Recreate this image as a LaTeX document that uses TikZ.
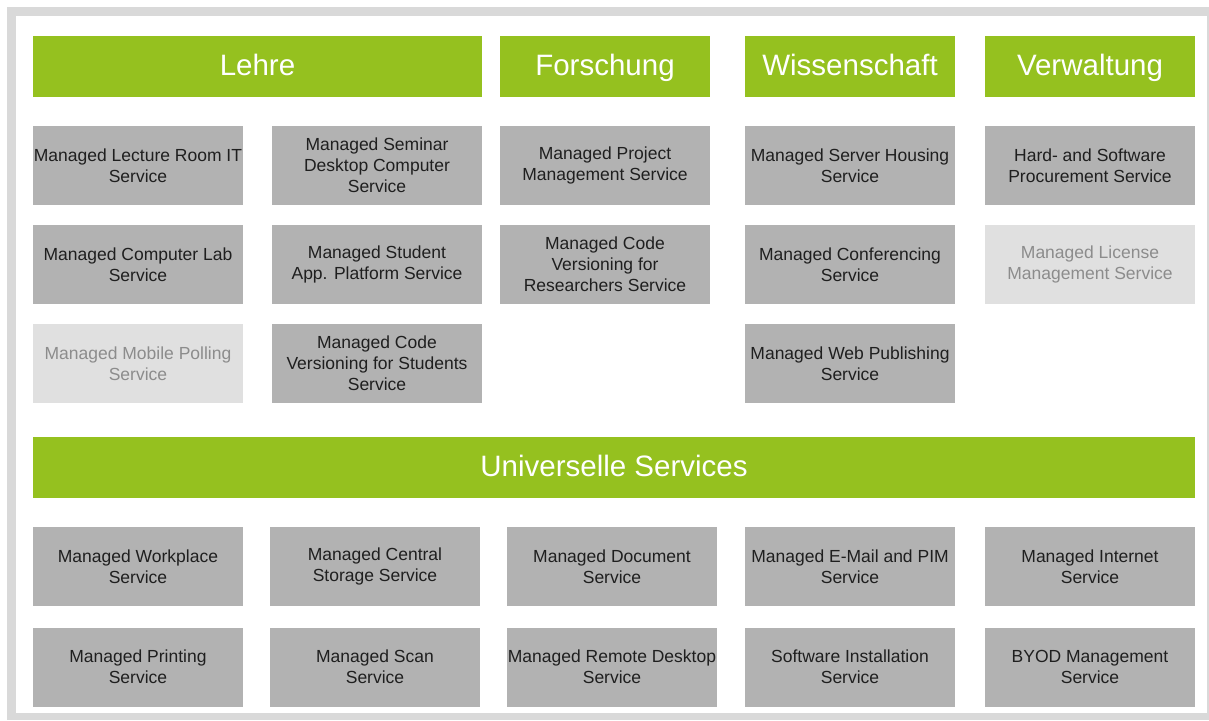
\documentclass[tikz,border=0pt]{standalone}
\usepackage{fontspec}
\setmainfont{Liberation Sans}
\usetikzlibrary{positioning}
\definecolor{hsgreen}{HTML}{95C11F}
\definecolor{boxgray}{HTML}{B2B2B2}
\definecolor{palegray}{HTML}{E0E0E0}
\definecolor{palefont}{HTML}{8C8C8C}
\definecolor{framegray}{HTML}{D9D9D9}
\tikzstyle{head} = [rectangle, minimum height=61pt, minimum width=210pt, text centered, text height=21pt, text depth=4pt, fill=hsgreen, text=white, font=\fontsize{29.5}{33}\selectfont, inner sep=0pt]
\tikzstyle{service} = [rectangle, minimum width=210pt, minimum height=79pt, align=center, fill=boxgray, text=black!88, font=\fontsize{17.5}{21}\selectfont, inner sep=0pt]
\tikzstyle{planned} = [service, fill=palegray, text=palefont]

\begin{document}
\begin{tikzpicture}[x=1pt, y=1pt, node distance=99pt]
\useasboundingbox (0,0) rectangle (1209,-720);
\fill[white] (0,0) rectangle (1209,-720);
\fill[framegray] (7,-7) rectangle (1209,-720);
\fill[white] (16,-16) rectangle (1207,-713);

\node (lehre) [head, minimum width=449pt] at (257.5,-66.5) {Lehre};
\node (forschung) [head] at (605,-66.5) {Forschung};
\node (wissenschaft) [head] at (850,-66.5) {Wissenschaft};
\node (verwaltung) [head] at (1090,-66.5) {Verwaltung};

\node (lecture) [service, below of=lehre, xshift=-119.5pt] {Managed Lecture Room IT\\Service};
\node (seminar) [service, below of=lehre, xshift=119.5pt] {Managed Seminar\\Desktop Computer\\Service};
\node (complab) [service, below of=lecture] {Managed Computer Lab\\Service};
\node (studapp) [service, below of=seminar] {Managed Student\\App. Platform Service};
\node (polling) [planned, below of=complab] {Managed Mobile Polling\\Service};
\node (codestud) [service, below of=studapp] {Managed Code\\Versioning for Students\\Service};

\node (project) [service, below of=forschung] {Managed Project\\Management Service};
\node (coderes) [service, below of=project] {Managed Code\\Versioning for\\Researchers Service};

\node (housing) [service, below of=wissenschaft] {Managed Server Housing\\Service};
\node (confer) [service, below of=housing] {Managed Conferencing\\Service};
\node (webpub) [service, below of=confer] {Managed Web Publishing\\Service};

\node (procure) [service, below of=verwaltung] {Hard- and Software\\Procurement Service};
\node (license) [planned, below of=procure] {Managed License\\Management Service};

\node (univ) [head, minimum width=1162pt] at (614,-467.5) {Universelle Services};

\node (workplace) [service, below of=univ, xshift=-476pt] {Managed Workplace\\Service};
\node (storage) [service, below of=univ, xshift=-239pt] {Managed Central\\Storage Service};
\node (document) [service, below of=univ, xshift=-2pt] {Managed Document\\Service};
\node (email) [service, below of=univ, xshift=236pt] {Managed E-Mail and PIM\\Service};
\node (internet) [service, below of=univ, xshift=476pt] {Managed Internet\\Service};

\node (printing) [service, below of=workplace, yshift=-1.5pt] {Managed Printing\\Service};
\node (scan) [service, below of=storage, yshift=-1.5pt] {Managed Scan\\Service};
\node (remote) [service, below of=document, yshift=-1.5pt] {Managed Remote Desktop\\Service};
\node (install) [service, below of=email, yshift=-1.5pt] {Software Installation\\Service};
\node (byod) [service, below of=internet, yshift=-1.5pt] {BYOD Management\\Service};
\end{tikzpicture}
\end{document}
